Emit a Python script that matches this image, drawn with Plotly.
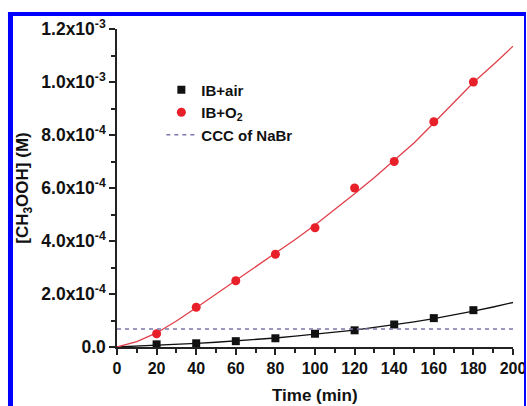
import plotly.graph_objects as go

# ---- data ----
time_pts = [20, 40, 60, 80, 100, 120, 140, 160, 180]
ib_air = [1.0e-5, 1.4e-5, 2.2e-5, 3.3e-5, 5.0e-5, 6.3e-5, 8.5e-5, 1.09e-4, 1.39e-4]
ib_o2 = [5.0e-5, 1.5e-4, 2.5e-4, 3.5e-4, 4.5e-4, 6.0e-4, 7.0e-4, 8.5e-4, 1.0e-3]

fit_time = [0, 10, 20, 30, 40, 50, 60, 70, 80, 90, 100, 110, 120, 130, 140, 150, 160, 170, 180, 190, 200]
fit_air = [0, 0.3e-5, 0.7e-5, 1.0e-5, 1.4e-5, 1.8e-5, 2.3e-5, 2.8e-5, 3.4e-5, 4.1e-5, 4.8e-5,
           5.6e-5, 6.4e-5, 7.4e-5, 8.4e-5, 9.5e-5, 10.7e-5, 12.0e-5, 13.5e-5, 15.1e-5, 16.8e-5]
fit_o2 = [0, 2.0e-5, 5.3e-5, 9.8e-5, 14.8e-5, 19.9e-5, 25.0e-5, 30.1e-5, 35.3e-5, 40.6e-5, 46.0e-5,
          51.8e-5, 57.8e-5, 64.0e-5, 70.4e-5, 77.0e-5, 84.5e-5, 92.0e-5, 99.8e-5, 106.5e-5, 113.5e-5]

ccc_time = [0, 200]
ccc_value = [6.8e-5, 6.8e-5]

x_ticks = [0, 20, 40, 60, 80, 100, 120, 140, 160, 180, 200]
y_ticks = [0, 2e-4, 4e-4, 6e-4, 8e-4, 1.0e-3, 1.2e-3]
y_ticktext = ["0.0", "2.0x10<sup>-4</sup>", "4.0x10<sup>-4</sup>", "6.0x10<sup>-4</sup>",
              "8.0x10<sup>-4</sup>", "1.0x10<sup>-3</sup>", "1.2x10<sup>-3</sup>"]

FONT = "Liberation Sans, Arial, sans-serif"

fig = go.Figure()
fig.add_trace(go.Scatter(x=fit_time, y=fit_air, mode="lines", line=dict(color="#111111", width=1.3),
                         showlegend=False, hoverinfo="skip"))
fig.add_trace(go.Scatter(x=fit_time, y=fit_o2, mode="lines", line=dict(color="#e0404a", width=1.3),
                         showlegend=False, hoverinfo="skip"))
fig.add_trace(go.Scatter(x=time_pts, y=ib_air, mode="markers", name="IB+air",
                         marker=dict(symbol="square", size=8, color="#111111")))
fig.add_trace(go.Scatter(x=time_pts, y=ib_o2, mode="markers", name="IB+O<sub>2</sub>",
                         marker=dict(symbol="circle", size=9, color="#e8202a")))
fig.add_trace(go.Scatter(x=ccc_time, y=ccc_value, mode="lines", name="CCC of NaBr",
                         line=dict(color="#7878aa", width=1.3, dash="4px,4px")))

fig.update_layout(
    width=527, height=406,
    margin=dict(l=117, r=14, t=29, b=59, autoexpand=False),
    paper_bgcolor="white", plot_bgcolor="white",
    font=dict(family=FONT, color="#111111"),
    showlegend=True,
    legend=dict(x=0.112, y=0.86, xanchor="left", yanchor="top",
                bgcolor="rgba(0,0,0,0)", font=dict(size=15, weight=700, family=FONT),
                tracegroupgap=0, itemwidth=30),
    xaxis=dict(range=[0, 200], tickmode="array", tickvals=x_ticks, automargin=False,
               ticks="outside", ticklen=6, tickwidth=1.5, tickcolor="#222",
               showline=True, linecolor="#222", linewidth=1.5, mirror=False,
               showgrid=False, zeroline=False,
               tickfont=dict(size=16, weight=700, family=FONT),
               minor=dict(dtick=10, tick0=0, ticks="outside", ticklen=4, tickwidth=1.5, tickcolor="#222")),
    yaxis=dict(range=[0, 1.2e-3], tickmode="array", tickvals=y_ticks, ticktext=y_ticktext, automargin=False,
               ticks="outside", ticklen=6, tickwidth=1.5, tickcolor="#222",
               showline=True, linecolor="#222", linewidth=1.5, mirror=False,
               showgrid=False, zeroline=False,
               tickfont=dict(size=17.5, weight=700, family=FONT),
               title=dict(text="[CH<sub>3</sub>OOH] (M)", font=dict(size=17, weight=700, family=FONT), standoff=8),
               minor=dict(dtick=1e-4, tick0=0, ticks="outside", ticklen=4, tickwidth=1.5, tickcolor="#222")),
    annotations=[
        dict(text="Time (min)", x=0.5, y=-0.151, xref="paper", yref="paper",
             showarrow=False, xanchor="center", yanchor="middle",
             font=dict(size=17, weight=700, family=FONT)),
    ],
    shapes=[
        dict(type="rect", xref="paper", yref="paper", x0=-0.2753, x1=1.0328, y0=1.0409, y1=1.0535,
             fillcolor="#0000ff", line=dict(width=0), layer="above"),
        dict(type="rect", xref="paper", yref="paper", x0=-0.2753, x1=-0.2626, y0=-0.19, y1=1.0535,
             fillcolor="#0000ff", line=dict(width=0), layer="above"),
        dict(type="rect", xref="paper", yref="paper", x0=1.0278, x1=1.0328, y0=-0.19, y1=1.0535,
             fillcolor="#0000ff", line=dict(width=0), layer="above"),
    ],
)

fig.write_html("out.html")
